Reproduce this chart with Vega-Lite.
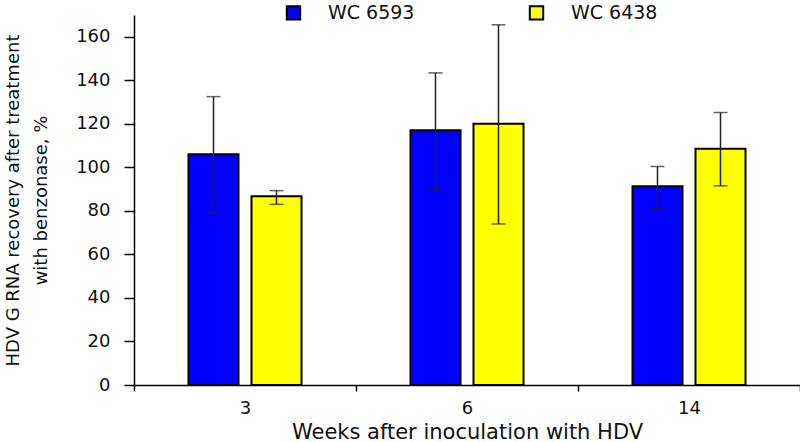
{
  "$schema": "https://vega.github.io/schema/vega-lite/v6.json",
  "width": 666,
  "height": 370,
  "autosize": {"type": "none"},
  "padding": {"left": 134, "top": 15, "right": 0, "bottom": 57},
  "background": "white",
  "config": {
    "view": {"stroke": null},
    "font": "DejaVu Sans",
    "axis": {"grid": false, "domainColor": "#000", "domainWidth": 1.5, "tickColor": "#000", "tickWidth": 1.5, "labelColor": "#111", "titleColor": "#111", "labelFontWeight": "normal", "titleFontWeight": "normal"}
  },
  "data": {
    "values": [
      {"week": "3", "strain": "WC 6593", "mean": 106, "lo": 79, "hi": 132.5},
      {"week": "3", "strain": "WC 6438", "mean": 86.7, "lo": 83, "hi": 89.3},
      {"week": "6", "strain": "WC 6593", "mean": 117, "lo": 89.3, "hi": 143.4},
      {"week": "6", "strain": "WC 6438", "mean": 120, "lo": 74, "hi": 165.5},
      {"week": "14", "strain": "WC 6593", "mean": 91.3, "lo": 81, "hi": 100.4},
      {"week": "14", "strain": "WC 6438", "mean": 108.6, "lo": 91.5, "hi": 125.2}
    ]
  },
  "encoding": {
    "x": {
      "field": "week", "type": "nominal", "sort": ["3", "6", "14"],
      "scale": {"paddingInner": 0, "paddingOuter": 0},
      "axis": {"title": "Weeks after inoculation with HDV", "labelAngle": 0, "tickBand": "extent", "tickSize": 6, "labelPadding": 8, "labelFontSize": 18, "titleFontSize": 21, "titlePadding": 4}
    },
    "xOffset": {
      "field": "strain", "type": "nominal", "sort": ["WC 6593", "WC 6438"],
      "scale": {"paddingInner": 0.206, "paddingOuter": 0.865}
    }
  },
  "layer": [
    {
      "mark": {"type": "bar", "stroke": "#000", "strokeWidth": 2},
      "encoding": {
        "y": {
          "field": "mean", "type": "quantitative",
          "scale": {"domain": [0, 170], "nice": false},
          "axis": {"title": ["HDV G RNA recovery after treatment", "with benzonase, %"], "values": [0, 20, 40, 60, 80, 100, 120, 140, 160], "tickSize": 10, "labelPadding": 14, "labelFontSize": 18, "titleFontSize": 18, "titleLineHeight": 28, "titlePadding": 25}
        },
        "color": {
          "field": "strain", "type": "nominal",
          "scale": {"domain": ["WC 6593", "WC 6438"], "range": ["#0000FF", "#FFFF00"]},
          "legend": {"title": null, "orient": "none", "direction": "horizontal", "legendX": 150, "legendY": -12, "symbolType": "square", "symbolSize": 180, "symbolStrokeColor": "#000", "symbolStrokeWidth": 2, "labelFontSize": 19, "labelColor": "#111", "labelOffset": 25, "columnPadding": 110}
        }
      }
    },
    {
      "mark": {"type": "rule", "color": "#222", "strokeWidth": 1.5},
      "encoding": {
        "y": {"field": "lo", "type": "quantitative"},
        "y2": {"field": "hi"}
      }
    },
    {
      "mark": {"type": "tick", "color": "#222", "thickness": 1.5, "size": 14},
      "encoding": {"y": {"field": "lo", "type": "quantitative"}}
    },
    {
      "mark": {"type": "tick", "color": "#222", "thickness": 1.5, "size": 14},
      "encoding": {"y": {"field": "hi", "type": "quantitative"}}
    }
  ]
}
